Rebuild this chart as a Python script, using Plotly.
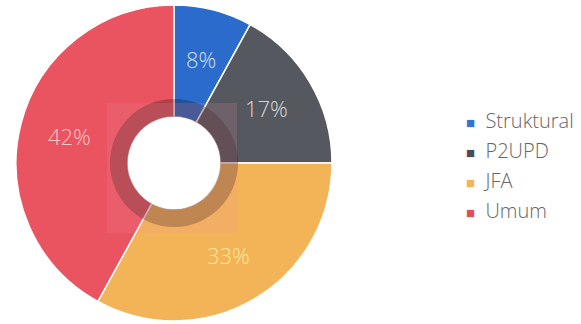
import math
import plotly.graph_objects as go

categories = ["Struktural", "P2UPD", "JFA", "Umum"]
values = [8, 17, 33, 42]
slice_colors = ["#2a6bcb", "#55585e", "#f2b457", "#e95460"]
label_colors = ["rgba(225,235,255,0.92)", "rgba(228,228,228,0.92)",
                "rgba(255,236,160,0.95)", "rgba(250,205,208,0.95)"]
legend_colors = ["#3474d6", "#4a4d55", "#f2b457", "#e24d5c"]

W, H = 581, 324
cx, cy, R = 174, 163, 158          # pixel centre / radius of the donut
hole_r, ring_r = 46, 64
label_frac = 0.68                  # radial position of the percentage labels

def px_x(x):
    return x / W

def px_y(y):
    return 1 - y / H

fig = go.Figure()

fig.add_trace(go.Pie(
    labels=categories,
    values=values,
    sort=False,
    direction="clockwise",
    rotation=0,
    hole=hole_r / R,
    marker=dict(colors=slice_colors, line=dict(color="white", width=1.5)),
    textinfo="none",
    domain=dict(x=[px_x(cx - R), px_x(cx + R)], y=[px_y(cy + R), px_y(cy - R)]),
    showlegend=False,
    hoverinfo="skip",
))

# darker inner ring (shadow band around the hole)
fig.add_trace(go.Pie(
    labels=["ring"],
    values=[1],
    hole=hole_r / ring_r,
    marker=dict(colors=["rgba(40,20,20,0.30)"], line=dict(width=0)),
    textinfo="none",
    domain=dict(x=[px_x(cx - ring_r), px_x(cx + ring_r)],
                y=[px_y(cy + ring_r), px_y(cy - ring_r)]),
    showlegend=False,
    hoverinfo="skip",
    sort=False,
))

# percentage labels placed on each slice's bisector
total = sum(values)
annotations = []
cum = 0
for v, col in zip(values, label_colors):
    mid = (cum + v / 2) / total * 2 * math.pi
    cum += v
    x = cx + label_frac * R * math.sin(mid)
    y = cy - label_frac * R * math.cos(mid)
    annotations.append(dict(
        x=px_x(x), y=px_y(y), xref="paper", yref="paper",
        text=f"{round(v / total * 100)}%", showarrow=False,
        font=dict(family="Open Sans", size=22, color=col, weight=300),
        xanchor="center", yanchor="middle",
    ))

# legend entries
for name, col in zip(categories, legend_colors):
    fig.add_trace(go.Scatter(
        x=[None], y=[None], mode="markers",
        marker=dict(size=0.1, color="rgba(0,0,0,0)", line=dict(width=0)),
        name=f"<span style='color:{col};font-size:15px'>■</span>  {name}",
        legendgroup=name,
        showlegend=True,
    ))

fig.update_layout(
    width=W, height=H,
    margin=dict(l=0, r=0, t=0, b=0),
    paper_bgcolor="white",
    plot_bgcolor="white",
    xaxis=dict(visible=False),
    yaxis=dict(visible=False),
    showlegend=True,
    legend=dict(
        x=px_x(426), xanchor="left",
        y=px_y(165), yanchor="middle",
        font=dict(family="Open Sans", size=20, color="#666666", weight=300),
        tracegroupgap=1,
        itemwidth=30,
        bgcolor="rgba(0,0,0,0)",
    ),
    annotations=annotations,
    shapes=[
        dict(type="rect", xref="paper", yref="paper", layer="above",
             x0=px_x(107), x1=px_x(237), y0=px_y(233), y1=px_y(103),
             fillcolor="rgba(240,150,170,0.16)", line=dict(width=0)),
        dict(type="circle", xref="paper", yref="paper", layer="above",
             x0=px_x(cx - hole_r), x1=px_x(cx + hole_r),
             y0=px_y(cy + hole_r), y1=px_y(cy - hole_r),
             fillcolor="white", line=dict(width=0)),
    ],
)

fig.write_html("out.html")
